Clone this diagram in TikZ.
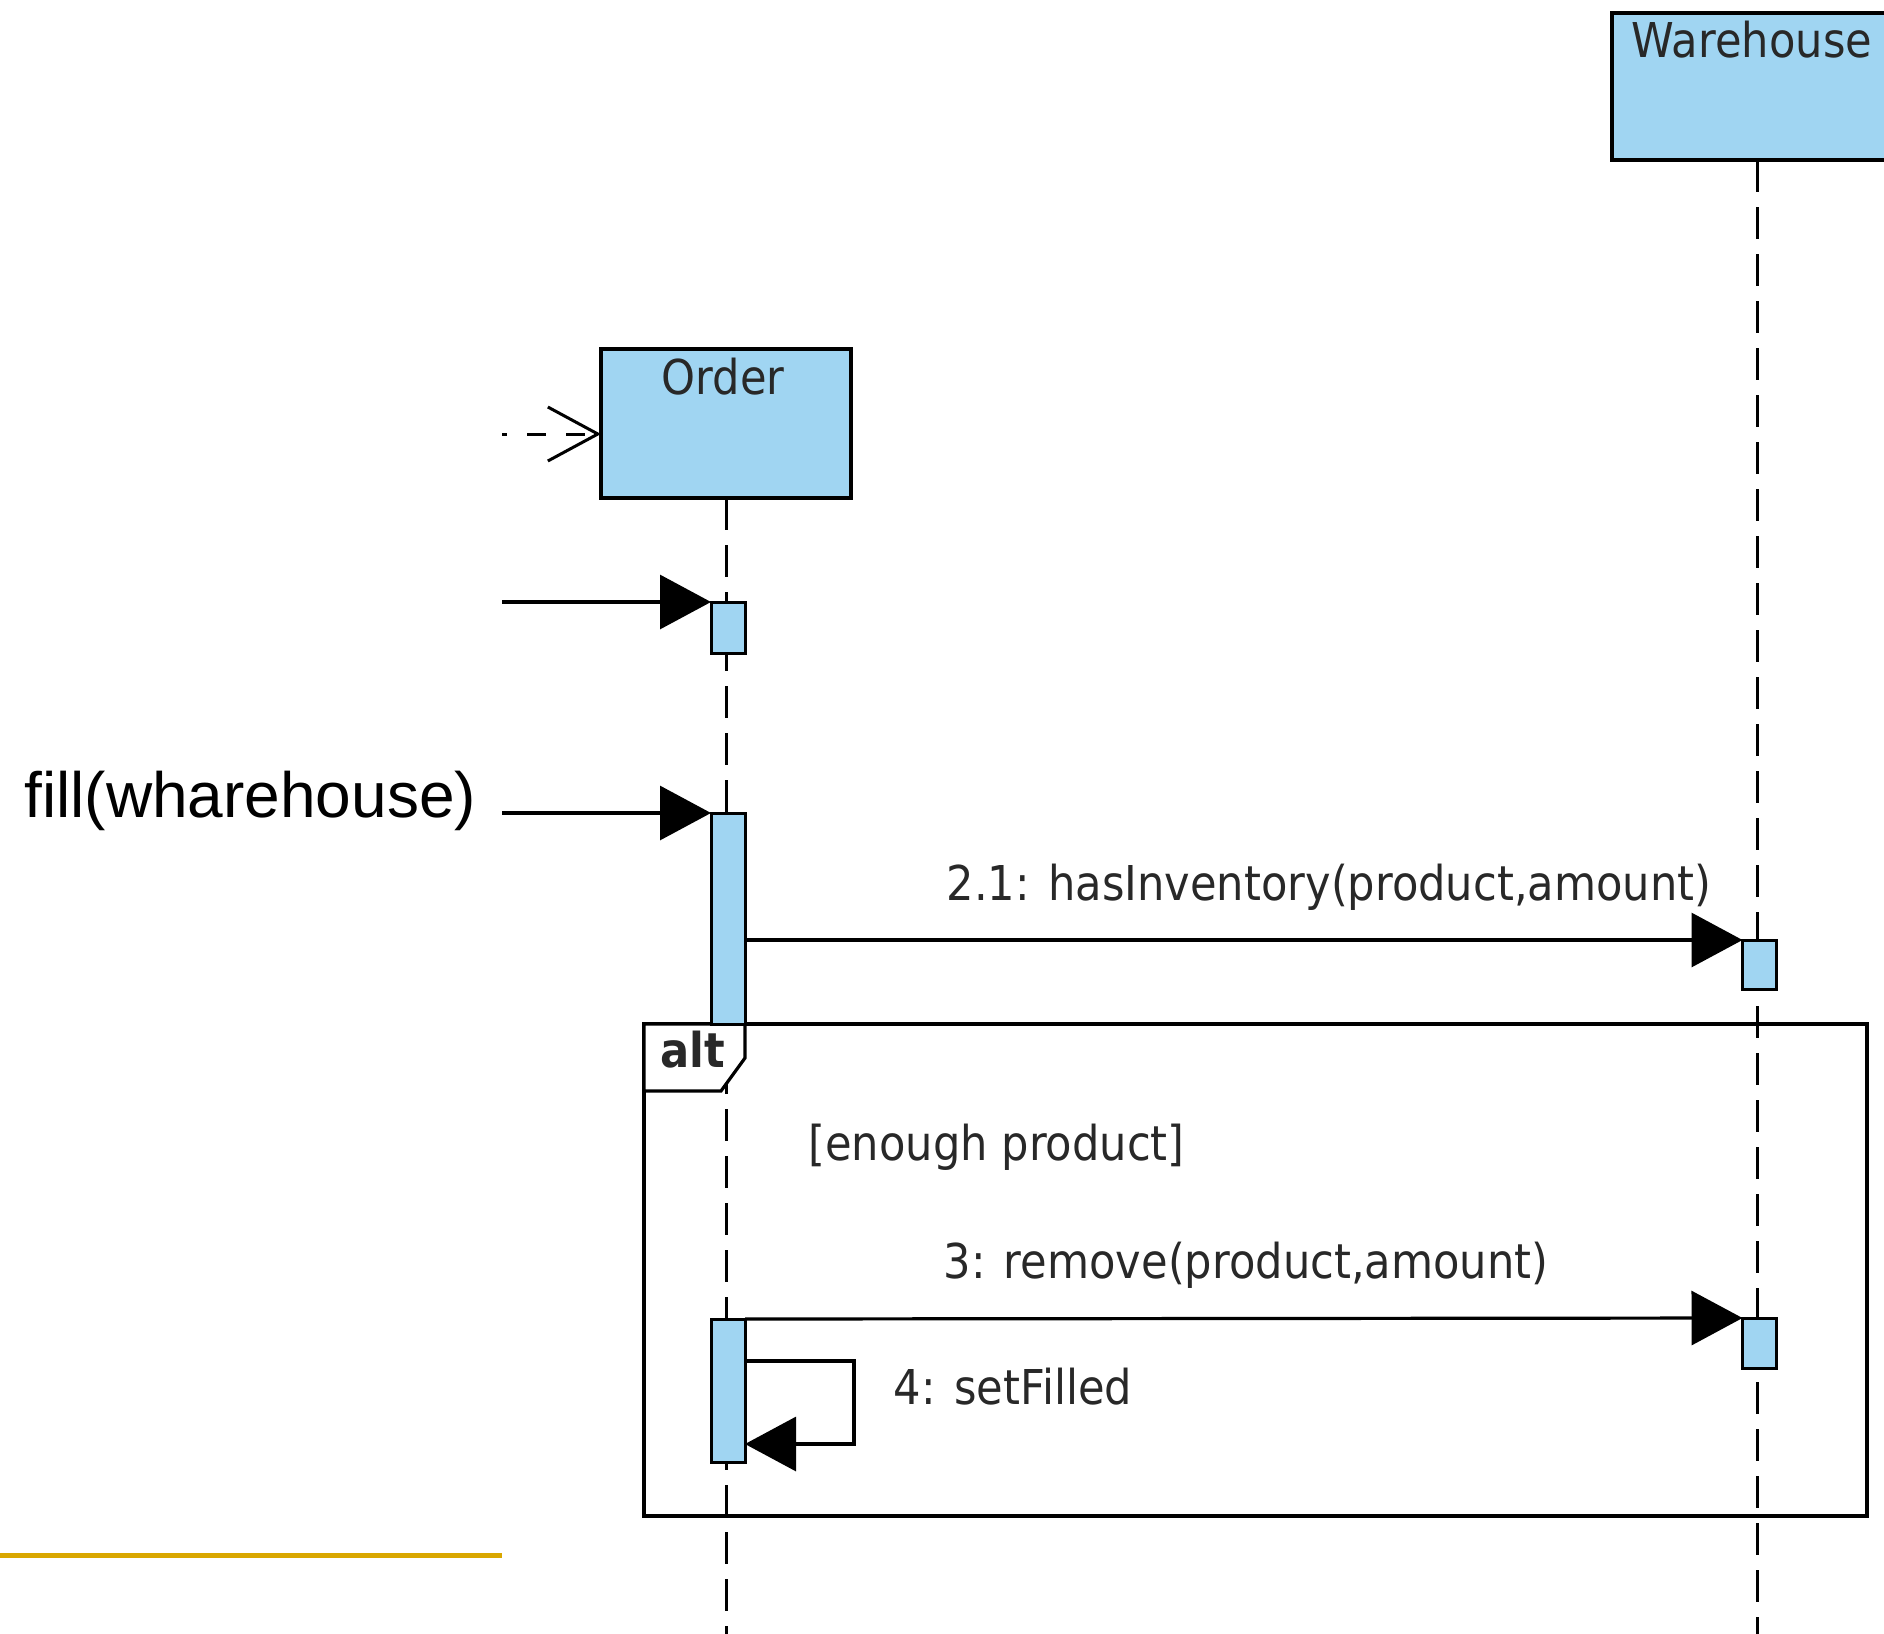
\documentclass[tikz,border=0pt]{standalone}
\usepackage{fontspec}
\setmainfont{Liberation Sans}
\newfontfamily\umlfont[FakeStretch=0.9]{DejaVu Sans}
\usetikzlibrary{arrows.meta}
\definecolor{umlblue}{RGB}{160,213,242}
\definecolor{goldline}{RGB}{217,167,0}
\definecolor{umltext}{RGB}{40,40,40}
\begin{document}
\begin{tikzpicture}[x=0.5pt,y=-0.5pt,
  lifeline/.style={line width=1.5pt, dash pattern=on 16pt off 7.5pt},
  objbox/.style={draw, line width=1.6pt, fill=umlblue, inner sep=0pt, outer sep=0pt},
  actbar/.style={draw, line width=1.5pt, fill=umlblue, inner sep=0pt, outer sep=0pt, minimum width=17pt},
  msg/.style={line width=1.6pt, -{Triangle[length=25.5pt,width=27pt]}},
  createmsg/.style={line width=1.5pt, dash pattern=on 9.5pt off 10pt, dash phase=7pt, -{Straight Barb[length=25pt,width=27pt,line width=1.5pt]}},
  umllabel/.style={font=\umlfont\fontsize{24}{28}\selectfont, text=umltext, inner sep=0pt, anchor=base},
  altlabel/.style={font=\umlfont\bfseries\fontsize{24}{28}\selectfont, text=umltext, inner sep=0pt, anchor=base},
  bigtext/.style={font=\fontsize{32}{36}\selectfont, text=black, inner sep=0pt, anchor=base west},
  frame/.style={draw, line width=1.6pt, inner sep=0pt, outer sep=0pt}
]
\useasboundingbox (0,0) rectangle (1884,1633);
\clip (0,0) rectangle (1884,1633);
\coordinate (bottom) at (0,1640);

% lifeline heads
\node[objbox, minimum width=125pt, minimum height=74.5pt] (order) at (726,423.5) {};
\node[objbox, minimum width=145pt, minimum height=73.5pt] (wh) at (1757,86.5) {};
\node[umllabel] (ordert) at (723,394) {Order};
\node[umllabel] (wht) at (1752,57) {Warehouse};

% lifelines
\draw[lifeline] (order.south) -- (order.south |- bottom);
\draw[lifeline] (wh.south) -- (wh.south |- bottom);

% alt frame
\node[frame, minimum width=611.5pt, minimum height=246pt] (alt) at (1255.5,1270) {};
\draw[line width=1.6pt, fill=white] (alt.north west) -- +(101,0) -- +(101,34) -- +(77,67) -- +(0,67) -- cycle;
\node[altlabel] (altt) at (693,1067) {alt};

% activations
\node[actbar, minimum height=25.5pt] (a1) at (728,627.5) {};
\node[actbar, minimum height=105.5pt] (a2) at (728,918.5) {};
\node[actbar, minimum height=71.5pt] (a3) at (728,1390.5) {};
\node[actbar, minimum height=24.5pt] (w1) at (1759.5,964.5) {};
\node[actbar, minimum height=25pt] (w2) at (1759.5,1343) {};

% incoming messages
\coordinate (c0) at (502,434);
\coordinate (c1) at (502,602);
\coordinate (c2) at (502,813);
\draw[createmsg] (c0) -- (c0 -| order.west);
\draw[msg] (c1) -- (a1.north west);
\draw[msg] (c2) -- (a2.north west);
\node[bigtext] (fillt) at (24,817) {fill(wharehouse)};

% messages
\draw[msg] (a2.east |- w1.north west) -- (w1.north west);
\node[umllabel] (m21) at (1329,900) {2.1: hasInventory(product,amount)};
\node[umllabel] (guard) at (996.5,1160) {[enough product]};
\draw[msg] (a3.north east) -- (w2.north west);
\node[umllabel] (m3) at (1246,1278) {3: remove(product,amount)};
\coordinate (s1) at (854,1361);
\coordinate (s2) at (854,1444);
\draw[msg] (a3.east |- s1) -- (s1) -- (s2) -- (a3.east |- s2);
\node[umllabel] (m4) at (1013,1404) {4: setFilled};

% gold rule
\coordinate (g0) at (0,1555);
\coordinate (g1) at (502,1555);
\draw[goldline, line width=2.5pt] (g0) -- (g1);
\end{tikzpicture}
\end{document}
